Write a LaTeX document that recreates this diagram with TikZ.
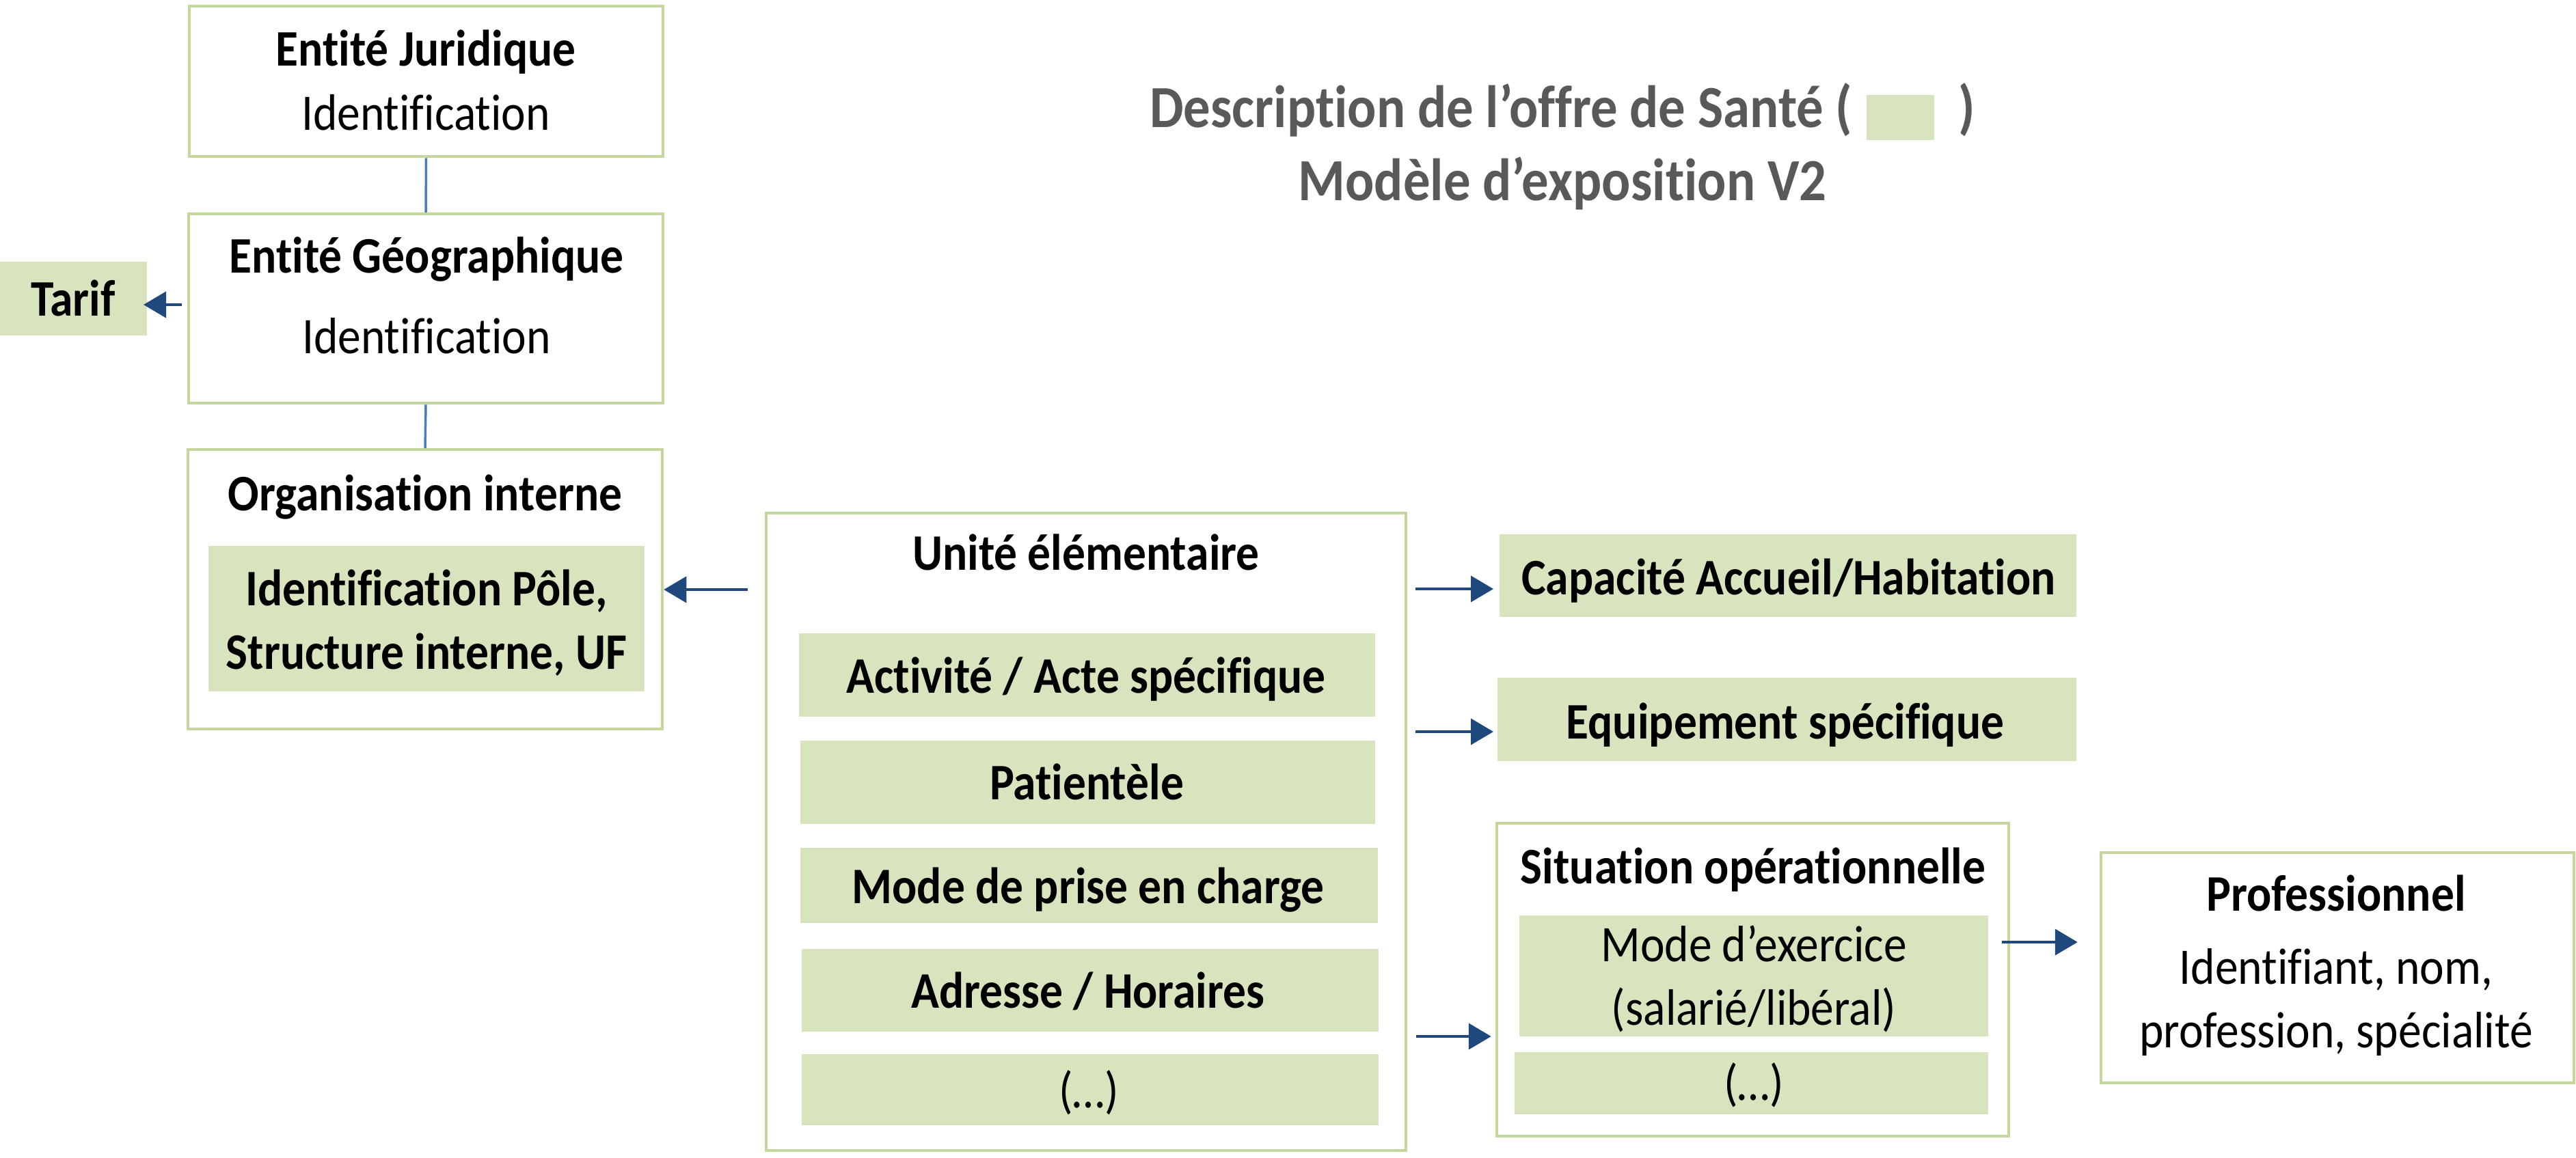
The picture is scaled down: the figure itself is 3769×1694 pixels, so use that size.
\documentclass[tikz,border=0pt]{standalone}
\usepackage{fontspec}
\setmainfont{Carlito}[FakeStretch=0.9,Ligatures=NoCommon]
\usetikzlibrary{arrows.meta,fit}
\definecolor{bordergreen}{HTML}{C3D69B}
\definecolor{fillgreen}{HTML}{D7E4BD}
\definecolor{arrowblue}{HTML}{1F497D}
\definecolor{linkblue}{HTML}{4A7EBB}
\definecolor{titlegray}{HTML}{595959}
\newcommand{\mlines}[1]{\begin{tabular}[t]{@{}c@{}}#1\end{tabular}}
\begin{document}
\begin{tikzpicture}[x=0.2pt,y=-0.2pt,
  box/.style={draw=bordergreen, line width=0.9pt, fill=white, inner sep=0pt},
  gbar/.style={fill=fillgreen, inner sep=0pt},
  txt/.style={font=\fontsize{15}{18.6}\selectfont, inner sep=0pt, anchor=base},
  txtb/.style={font=\fontsize{15}{18.6}\selectfont\bfseries, inner sep=0pt, anchor=base},
  titletxt/.style={font=\fontsize{17.5}{21.4}\selectfont\bfseries, text=titlegray, inner sep=0pt, anchor=base},
  arr/.style={draw=arrowblue, line width=0.8pt, -{Triangle[length=6.6pt,width=7.6pt]}},
  link/.style={draw=linkblue, line width=0.7pt}]
\useasboundingbox[fill=white] (0,0) rectangle (3769,1694);

% title
\node[titletxt] (title1) at (2286,186) {Description de l’offre de Santé (\hspace{4.2pt}\textcolor{fillgreen}{\rule[-3.7pt]{19.8pt}{13.1pt}}\hspace{7pt})};
\node[titletxt] (title2) at (2286,293) {Modèle d’exposition V2};

% left column
\node[box, fit={(277,9) (970,229)}] (ej) {};
\node[txtb] (ej-t1) at (623,96) {Entité Juridique};
\node[txt] (ej-t2) at (623,190) {Identification};

\node[box, fit={(276,313) (970,590)}] (eg) {};
\node[txtb] (eg-t1) at (624,399) {Entité Géographique};
\node[txt] (eg-t2) at (624,517) {Identification};

\node[gbar, fit={(0,383) (215,491)}] (tarif) {};
\node[txtb] (tarif-t) at (107,462) {Tarif};

\node[box, fit={(275,658) (969,1067)}] (oi) {};
\node[txtb] (oi-t) at (622,747) {Organisation interne};
\node[gbar, fit={(305,799) (943,1012)}] (oig) {};
\node[txtb] (oig-t) at (624,886) {\mlines{Identification Pôle,\\Structure interne, UF}};

\draw[link] (ej.south) -- (eg.north);
\draw[link] (eg.south) -- (oi.north);

% unité élémentaire
\node[box, fit={(1121,751) (2057,1684)}] (ue) {};
\node[txtb] (ue-t) at (1589,834) {Unité élémentaire};
\node[gbar, fit={(1169,927) (2012,1049)}] (b1) {};
\node[gbar, fit={(1171,1084) (2012,1206)}] (b2) {};
\node[gbar, fit={(1171,1241) (2016,1351)}] (b3) {};
\node[gbar, fit={(1173,1389) (2017,1510)}] (b4) {};
\node[gbar, fit={(1173,1543) (2017,1647)}] (b5) {};
\node[txtb] (b1-t) at (1589,1014) {Activité / Acte spécifique};
\node[txtb] (b2-t) at (1590,1170) {Patientèle};
\node[txtb] (b3-t) at (1592,1322) {Mode de prise en charge};
\node[txtb] (b4-t) at (1592,1475) {Adresse / Horaires};
\node[txt] (b5-t) at (1593,1621) {(…)};

% right column
\node[gbar, fit={(2194,782) (3038,903)}] (cap) {};
\node[txtb] (cap-t) at (2617,870) {Capacité Accueil/Habitation};
\node[gbar, fit={(2191,992) (3038,1114)}] (equ) {};
\node[txtb] (equ-t) at (2612,1081) {Equipement spécifique};

\node[box, fit={(2190,1205) (2939,1663)}] (so) {};
\node[txtb] (so-t) at (2565,1293) {Situation opérationnelle};
\node[gbar, fit={(2223,1340) (2909,1517)}] (sog1) {};
\node[txt] (sog1-t) at (2566,1407) {\mlines{Mode d’exercice\\(salarié/libéral)}};
\node[gbar, fit={(2216,1540) (2909,1631)}] (sog2) {};
\node[txt] (sog2-t) at (2566,1610) {(…)};

\node[box, fit={(3074,1248) (3766,1585)}] (prof) {};
\node[txtb] (prof-t1) at (3418,1333) {Professionnel};
\node[txt] (prof-t2) at (3418,1440) {\mlines{Identifiant, nom,\\profession, spécialité}};

% arrows
\coordinate (tarif-tail) at (266,446);
\draw[arr] (tarif-tail) -- ([xshift=-1.2pt]tarif.east |- tarif-tail);
\coordinate (oi-tail) at (1094,863);
\draw[arr] (oi-tail) -- (oi.east |- oi-tail);
\coordinate (cap-tail) at (2071,862);
\draw[arr] (cap-tail) -- ([xshift=-1.6pt]cap.west |- cap-tail);
\coordinate (equ-tail) at (2071,1071);
\draw[arr] (equ-tail) -- ([xshift=-1pt]equ.west |- equ-tail);
\coordinate (so-tail) at (2072,1517);
\draw[arr] (so-tail) -- ([xshift=-1.2pt]so.west |- so-tail);
\coordinate (prof-tail) at (2929,1379);
\draw[arr] (prof-tail) -- ([xshift=-6.4pt]prof.west |- prof-tail);
\end{tikzpicture}
\end{document}
